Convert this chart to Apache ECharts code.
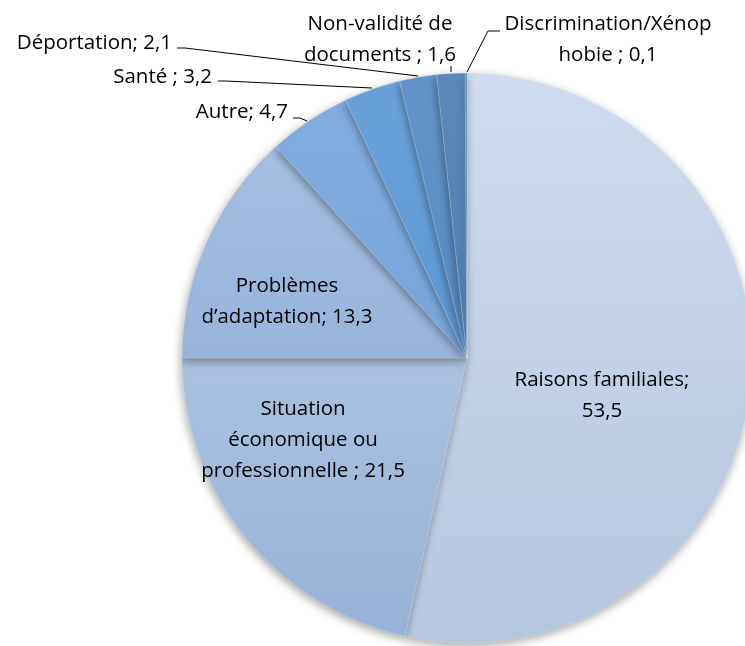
<!DOCTYPE html>
<html>
<head>
<meta charset="utf-8">
<script src="https://cdn.jsdelivr.net/npm/echarts@6/dist/echarts.min.js"></script>
<style>
html,body{margin:0;padding:0;background:#fff;}
#chart{width:745px;height:646px;}
</style>
</head>
<body>
<div id="chart"></div>
<script>
var categories = [
  'Raisons familiales',
  'Situation économique ou professionnelle ',
  'Problèmes d\u2019adaptation',
  'Autre',
  'Santé ',
  'Déportation',
  'Non-validité de documents ',
  'Discrimination/Xénophobie '
];
var values = [53.5, 21.5, 13.3, 4.7, 3.2, 2.1, 1.6, 0.1];
var labelTexts = [
  'Raisons familiales;\n53,5',
  'Situation\néconomique ou\nprofessionnelle ; 21,5',
  'Problèmes\nd\u2019adaptation; 13,3',
  'Autre; 4,7',
  'Santé ; 3,2',
  'Déportation; 2,1',
  'Non-validité de\ndocuments ; 1,6',
  'Discrimination/Xénop\nhobie ; 0,1'
];
var colorStopsTop = ['#d0ddf0','#bdd0ea','#aac2e4','#84aee0','#6aa2da','#6393c8','#5d89ba','#5a86b6'];
var colorStopsBot = ['#b5c6df','#97b2d7','#86a6d2','#6a9dd9','#4a8bcf','#4a80be','#4075ad','#3d72ab'];

// label placement (style)
var labelPos = [
  {x:602, y:396, align:'center'},
  {x:303, y:440, align:'center'},
  {x:287, y:302, align:'center'},
  {x:288, y:112, align:'right', line:[[293,118],[300,118],[307,121]]},
  {x:212, y:77, align:'right', line:[[218,81],[226,81],[372,88]]},
  {x:172, y:43, align:'right', line:[[177,48],[185,48],[418,76]]},
  {x:380, y:40, align:'center', line:[[451,66],[451,66],[451,72]]},
  {x:608, y:40, align:'center', line:[[500,31],[488,31],[467,72]]}
];

var cx = 467, cy = 358, R = 285;

var data = categories.map(function(c, i){
  var small = i >= 3;
  return {
    name: c,
    value: values[i],
    itemStyle: {
      color: {
        type: 'linear', x: 0, y: cy - R, x2: 0, y2: cy + R, global: true,
        colorStops: [{offset:0, color: colorStopsTop[i]}, {offset:1, color: colorStopsBot[i]}]
      }
    },
    label: {formatter: labelTexts[i]},
    labelLine: {show: small}
  };
});

var chart = echarts.init(document.getElementById('chart'), null, {renderer:'canvas'});
chart.setOption({
  animation: false,
  backgroundColor: '#ffffff',
  series: [{
    type: 'pie',
    center: [cx, cy],
    radius: R,
    startAngle: 90,
    clockwise: true,
    avoidLabelOverlap: false,
    data: data,
    itemStyle: {
      borderColor: 'rgba(255,255,255,0.35)',
      borderWidth: 0.6,
      shadowBlur: 10,
      shadowColor: 'rgba(0,0,0,0.35)',
      shadowOffsetX: -1,
      shadowOffsetY: 3
    },
    label: {
      show: true,
      position: 'outside',
      fontFamily: 'Open Sans',
      fontSize: 20.5,
      lineHeight: 31,
      color: '#000000',
      align: 'center'
    },
    labelLine: {
      show: true,
      lineStyle: {color: '#000000', width: 1}
    },
    labelLayout: function(params){
      var p = labelPos[params.dataIndex];
      var r = {x: p.x, y: p.y, align: p.align, verticalAlign: 'middle'};
      if (p.line) r.labelLinePoints = p.line;
      return r;
    }
  }]
});
</script>
</body>
</html>
